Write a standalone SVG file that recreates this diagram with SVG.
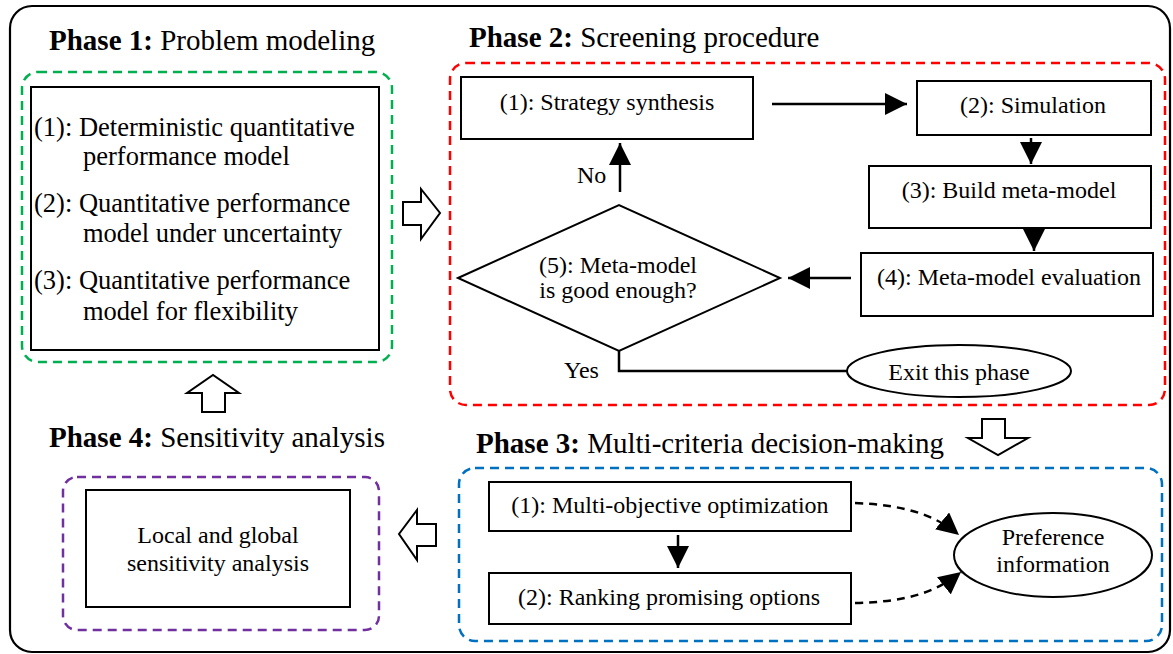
<svg xmlns="http://www.w3.org/2000/svg" width="1173" height="654" viewBox="0 0 1173 654">
<defs>
<style>
text{font-family:"Liberation Serif","Times New Roman",serif;fill:#000}
.title{font-size:29px}
.b{font-weight:bold}
.t1{font-size:26.5px}
.t{font-size:24px}
.mid{text-anchor:middle}
.box{fill:#fff;stroke:#000;stroke-width:2}
.blk{fill:#fff;stroke:#000;stroke-width:2;stroke-linejoin:miter}
.dash{fill:none;stroke-width:2.5;stroke-dasharray:9 6}
.line{fill:none;stroke:#000;stroke-width:2.5}
.dl{fill:none;stroke:#000;stroke-width:2.5;stroke-dasharray:8 6}
</style>
<marker id="ah" viewBox="0 0 10 10" refX="10" refY="5" markerWidth="9" markerHeight="9" markerUnits="userSpaceOnUse" orient="auto">
<path d="M0,0 L10,5 L0,10 Z" fill="#000"/>
</marker>
<marker id="ahb" viewBox="0 0 22 22" refX="22" refY="11" markerWidth="22" markerHeight="22" markerUnits="userSpaceOnUse" orient="auto">
<path d="M0,0 L22,11 L0,22 Z" fill="#000"/>
</marker>
</defs>
<rect x="0" y="0" width="1173" height="654" fill="#fff"/>
<rect x="10" y="6" width="1160" height="646" rx="22" ry="22" fill="none" stroke="#000" stroke-width="2.2"/>

<g id="phase1">
<text class="title" x="49" y="50"><tspan class="b">Phase 1:</tspan> Problem modeling</text>
<rect class="dash" x="22" y="72" width="370" height="290" rx="16" stroke="#00b050"/>
<rect class="box" x="31" y="87" width="348" height="263"/>
<text class="t1" x="34" y="136">(1): Deterministic quantitative</text>
<text class="t1" x="83" y="165">performance model</text>
<text class="t1" x="34" y="212">(2): Quantitative performance</text>
<text class="t1" x="83" y="242">model under uncertainty</text>
<text class="t1" x="34" y="289">(3): Quantitative performance</text>
<text class="t1" x="83" y="320">model for flexibility</text>
</g>

<g id="phase2">
<text class="title" x="469" y="47"><tspan class="b">Phase 2:</tspan> Screening procedure</text>
<rect class="dash" x="450" y="63" width="715" height="342" rx="16" stroke="#ff0000"/>
</g>
<g id="p2-n1"><rect class="box" x="461" y="77" width="292" height="62"/><text class="t mid" x="607" y="110">(1): Strategy synthesis</text></g>
<g id="p2-n2"><rect class="box" x="917" y="81" width="234" height="54"/><text class="t mid" x="1033" y="113">(2): Simulation</text></g>
<g id="p2-n3"><rect class="box" x="869" y="166" width="282" height="62"/><text class="t mid" x="1009" y="198">(3): Build meta-model</text></g>
<g id="p2-n4"><rect class="box" x="861" y="253" width="292" height="63"/><text class="t mid" x="1009" y="285">(4): Meta-model evaluation</text></g>
<g id="p2-n5"><polygon class="box" points="458,278 619,205 780,278 619,351"/><text class="t mid" x="618" y="273">(5): Meta-model</text><text class="t mid" x="618" y="298">is good enough?</text></g>
<g id="p2-exit"><ellipse class="box" cx="959" cy="371" rx="112" ry="26"/><text class="t mid" x="959" y="380">Exit this phase</text></g>

<g id="phase3">
<text class="title" x="476" y="453"><tspan class="b">Phase 3:</tspan> Multi-criteria decision-making</text>
<rect class="dash" x="459" y="468" width="703" height="173" rx="16" stroke="#0070c0"/>
</g>
<g id="p3-n1"><rect class="box" x="489" y="482" width="362" height="49"/><text class="t mid" x="670" y="513">(1): Multi-objective optimization</text></g>
<g id="p3-n2"><rect class="box" x="489" y="573" width="362" height="51"/><text class="t mid" x="669" y="605">(2): Ranking promising options</text></g>
<g id="p3-pref"><ellipse class="box" cx="1053" cy="555" rx="99" ry="42"/><text class="t mid" x="1053" y="545">Preference</text><text class="t mid" x="1053" y="572">information</text></g>

<g id="phase4">
<text class="title" x="49" y="447"><tspan class="b">Phase 4:</tspan> Sensitivity analysis</text>
<rect class="dash" x="63" y="477" width="316" height="153" rx="14" stroke="#7030a0"/>
</g>
<g id="p4-n1"><rect class="box" x="86" y="490" width="264" height="117"/><text class="t mid" x="218" y="543">Local and global</text><text class="t mid" x="218" y="571">sensitivity analysis</text></g>

<g id="connectors">
<path class="line" d="M772,104 L907,104" marker-end="url(#ahb)"/>
<path class="line" d="M1031,138 L1031,164" marker-end="url(#ahb)"/>
<path class="line" d="M1034,228 L1034,251" marker-end="url(#ahb)"/>
<path class="line" d="M851,278 L788,278" marker-end="url(#ahb)"/>
<path class="line" d="M620,192 L620,143" marker-end="url(#ahb)"/>
<path class="line" d="M619,351 L619,371 L847,371"/>
<text class="t" x="577" y="183">No</text>
<text class="t" x="564" y="378">Yes</text>
<path class="line" d="M678,535 L678,568" marker-end="url(#ahb)"/>
<path class="dl" d="M855,503 C905,505 935,515 959,535" marker-end="url(#ahb)"/>
<path class="dl" d="M855,603 C905,602 935,593 961,572" marker-end="url(#ahb)"/>
<polygon class="blk" points="403,202 421,202 421,189 440,213 421,239 421,225 403,225"/>
<polygon class="blk" points="982,419 1005,419 1005,438 1028,438 998,455 968,438 982,438"/>
<polygon class="blk" points="436,524 417,524 417,510 399,534 417,560 417,546 436,546"/>
<polygon class="blk" points="202,412 202,393 187,393 213,375 239,393 225,393 225,412"/>
</g>
</svg>
